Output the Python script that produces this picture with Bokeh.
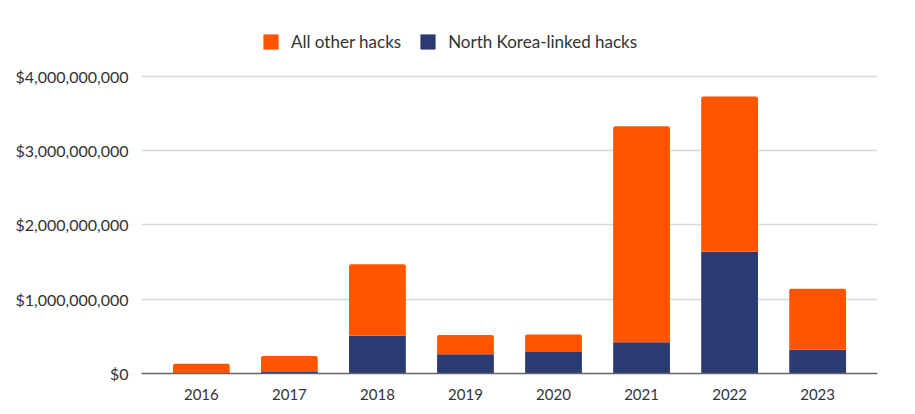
from bokeh.plotting import figure
from bokeh.models import ColumnDataSource, FactorRange, Range1d, NumeralTickFormatter, Legend, LegendItem, FixedTicker
from bokeh.embed import file_html
from bokeh.resources import INLINE

# Data (US dollars)
years = ["2016", "2017", "2018", "2019", "2020", "2021", "2022", "2023"]
north_korea = [0.0, 0.02e9, 0.51e9, 0.26e9, 0.29e9, 0.42e9, 1.64e9, 0.32e9]
all_other = [0.13e9, 0.215e9, 0.96e9, 0.26e9, 0.235e9, 2.91e9, 2.09e9, 0.82e9]
y_ticks = [0, 1e9, 2e9, 3e9, 4e9]

ORANGE = "#ff5500"
NAVY = "#2b3a73"
FONT = "Lato"

source = ColumnDataSource(dict(year=years, nk=north_korea, other=all_other))

p = figure(
    width=899, height=405,
    x_range=FactorRange(*years, range_padding=0.18, range_padding_units="absolute"),
    y_range=Range1d(0, 4.70e9),
    output_backend="svg", toolbar_location=None,
    min_border_left=141, min_border_right=22, min_border_top=24, min_border_bottom=32,
)

r = p.vbar_stack(["nk", "other"], x="year", width=0.645, source=source,
                 color=[NAVY, ORANGE], line_color=None)
r[1].glyph.border_radius = (2, 2, 0, 0)

p.outline_line_color = None
p.background_fill_color = "white"
p.border_fill_color = "white"

p.xgrid.grid_line_color = None
p.ygrid.grid_line_color = "#d9d9d9"
p.ygrid.grid_line_width = 1.5
p.ygrid.ticker = FixedTicker(ticks=y_ticks)

p.yaxis.ticker = FixedTicker(ticks=y_ticks)
p.yaxis.formatter = NumeralTickFormatter(format="$0,0")
p.yaxis.axis_line_color = None
p.yaxis.major_tick_line_color = None
p.yaxis.minor_tick_line_color = None
p.yaxis.major_label_standoff = 7
p.yaxis.major_label_text_font = FONT
p.yaxis.major_label_text_font_size = "16px"
p.yaxis.major_label_text_color = "#333333"

p.xaxis.axis_line_color = "#666666"
p.xaxis.axis_line_width = 1.5
p.xaxis.major_tick_line_color = None
p.xaxis.minor_tick_line_color = None
p.xaxis.major_label_standoff = 9
p.xaxis.major_label_text_font = FONT
p.xaxis.major_label_text_font_size = "15px"
p.xaxis.major_label_text_color = "#333333"

legend = Legend(
    items=[LegendItem(label="All other hacks", renderers=[r[1]]),
           LegendItem(label="North Korea-linked hacks", renderers=[r[0]])],
    orientation="horizontal",
    location=(120, 321),
    padding=0, margin=0, spacing=17,
    glyph_width=19, glyph_height=19, label_height=19, label_standoff=11,
    label_text_font=FONT, label_text_font_size="17px", label_text_color="#333333",
    border_line_color=None, background_fill_alpha=0,
)
p.add_layout(legend)

open("out.html", "w").write(file_html(p, INLINE))
